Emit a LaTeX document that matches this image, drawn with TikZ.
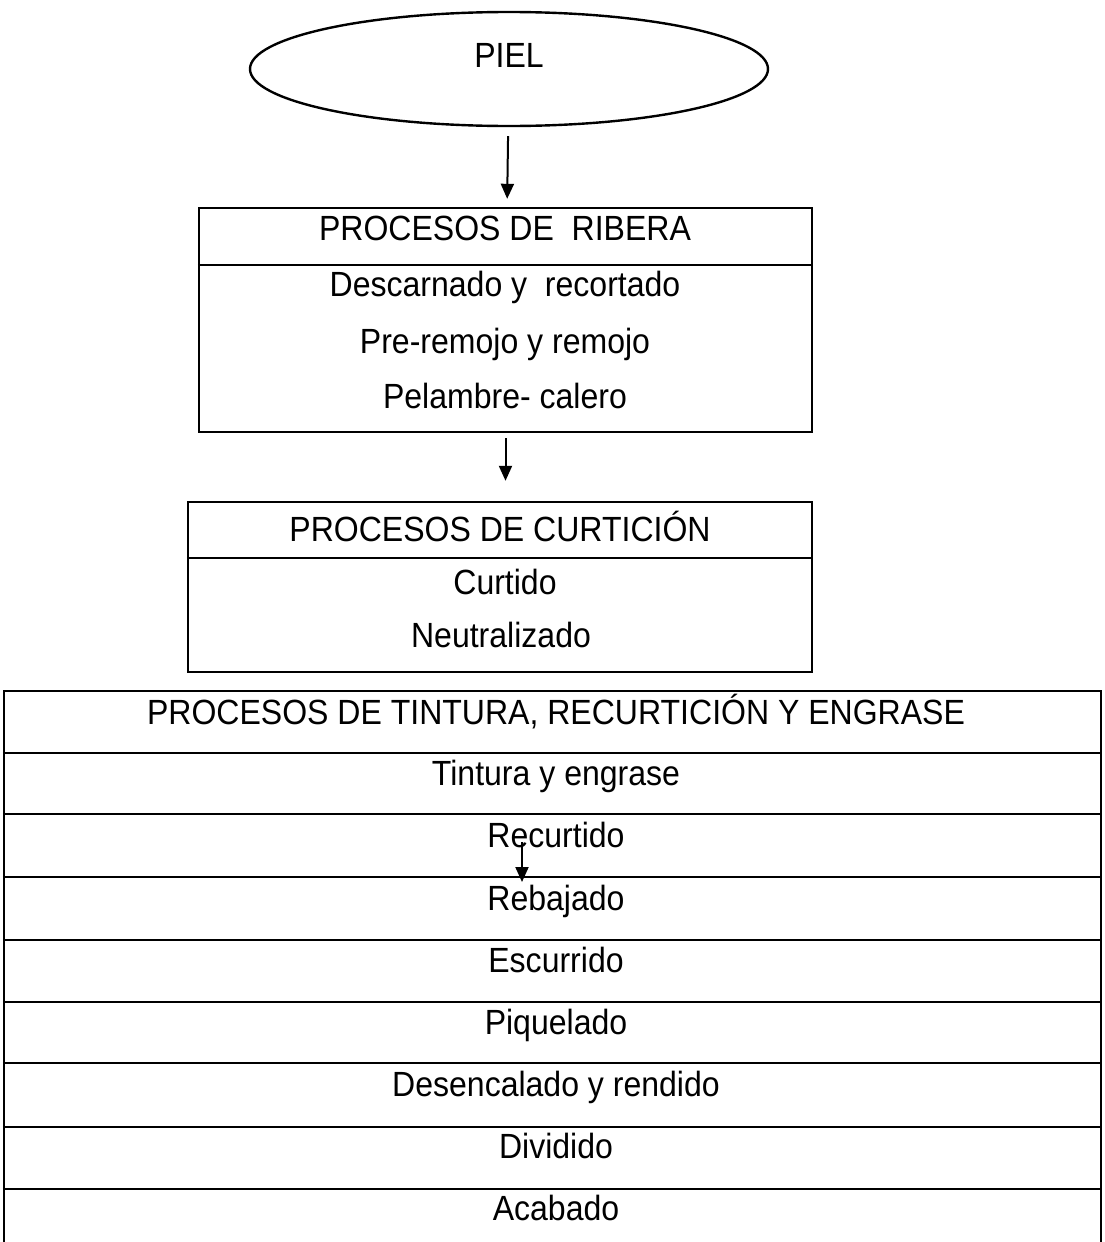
\documentclass[tikz,border=0pt]{standalone}
\usepackage{fontspec}
\setmainfont{Liberation Sans}[FakeStretch=0.915]
\usetikzlibrary{shapes.geometric,arrows.meta}
\begin{document}
\begin{tikzpicture}[x=0.5pt,y=-0.5pt,
  txt/.style={font=\fontsize{17.5}{20}\selectfont, inner sep=0pt, text height=12.5pt, text depth=0pt, anchor=center},
  box/.style={draw, line width=1.2pt, rectangle, inner sep=0pt},
  arr/.style={line width=1pt, -{Triangle[length=7.5pt,width=6.5pt]}},
  sep/.style={line width=1.2pt}]
\useasboundingbox (0,0) rectangle (1104,1242);
\clip (0,0) rectangle (1104,1242);

% PIEL
\node[ellipse, draw, line width=1.2pt, minimum width=259pt, minimum height=57pt, inner sep=0pt] (piel) at (509,69) {};
\node[txt] (pieltxt) at (509,55) {PIEL};

% RIBERA
\node[box, minimum width=306.5pt, minimum height=112pt] (ribera) at (505.5,320) {};
\draw[sep] (ribera.west |- 0,265) -- (ribera.east |- 0,265);
\node[txt] (rib0) at (505,228) {PROCESOS DE\ \ RIBERA};
\node[txt] (rib1) at (505,284) {Descarnado y\ \ recortado};
\node[txt] (rib2) at (505,341) {Pre-remojo y remojo};
\node[txt] (rib3) at (505,396) {Pelambre- calero};

% CURTICION
\node[box, minimum width=312pt, minimum height=85pt] (curticion) at (500,587) {};
\draw[sep] (curticion.west |- 0,558) -- (curticion.east |- 0,558);
\node[txt] (cur0) at (500,529) {PROCESOS DE CURTICIÓN};
\node[txt] (cur1) at (505,582) {Curtido};
\node[txt] (cur2) at (501,635) {Neutralizado};

% TABLA
\node[box, minimum width=548.5pt, minimum height=280.5pt] (tabla) at (552.5,971.5) {};
\foreach \yy in {753,814,877,940,1002,1063,1127,1189}
  \draw[sep] (tabla.west |- 0,\yy) -- (tabla.east |- 0,\yy);
\node[txt] (t0) at (556,712) {PROCESOS DE TINTURA, RECURTICIÓN Y ENGRASE};
\node[txt] (t1) at (556,773) {Tintura y engrase};
\node[txt] (t2) at (556,835) {Recurtido};
\node[txt] (t3) at (556,898) {Rebajado};
\node[txt] (t4) at (556,960) {Escurrido};
\node[txt] (t5) at (556,1022) {Piquelado};
\node[txt] (t6) at (556,1084) {Desencalado y rendido};
\node[txt] (t7) at (556,1146) {Dividido};
\node[txt] (t8) at (556,1208) {Acabado};

% Arrows
\draw[arr, shorten <=4.5pt, shorten >=4pt] (piel) -- (ribera);
\draw[arr, shorten <=2.5pt, shorten >=10pt] (ribera.south) -- (ribera.south |- curticion.north);
\coordinate (a3s) at (522,842);
\coordinate (a3e) at (522,882);
\draw[arr] (a3s) -- (a3e);
\end{tikzpicture}
\end{document}
